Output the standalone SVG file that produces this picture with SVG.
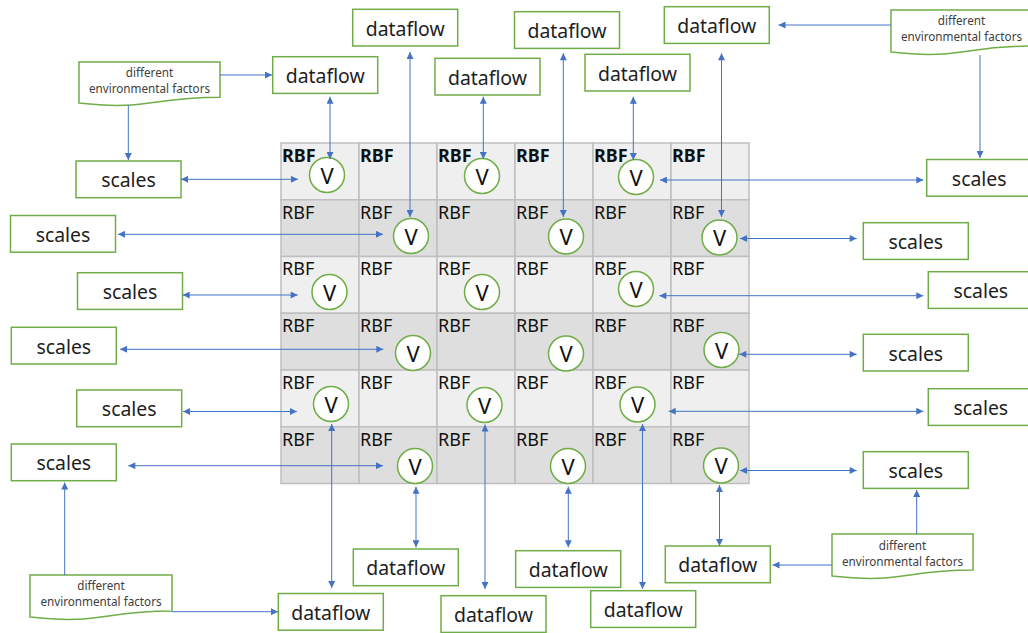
<svg xmlns="http://www.w3.org/2000/svg" width="1028" height="633" viewBox="0 0 1028 633">
<style>
.box{fill:#fff;stroke:#70ad47;stroke-width:1.5}
.doc{fill:#fff;stroke:#70ad47;stroke-width:1.5}
.lt{fill:#efefef;stroke:#bfbfbf;stroke-width:1.5}
.dk{fill:#dedede;stroke:#bfbfbf;stroke-width:1.5}
.cir{fill:#fff;stroke:#70ad47;stroke-width:1.5}
.t{font-family:"Noto Sans","Open Sans",sans-serif;font-size:19.4px;fill:#1e1e1e;text-anchor:middle}
.d{font-family:"Noto Sans","Open Sans",sans-serif;font-size:11.7px;fill:#404040;text-anchor:middle}
.r{font-family:"Noto Sans","Open Sans",sans-serif;font-size:18px;fill:#111}
.rb{font-weight:bold}
.v{font-family:"Noto Sans","Open Sans",sans-serif;font-size:22px;fill:#111;text-anchor:middle}
.c{fill:none;stroke:#4472c4;stroke-width:1}
.c2{marker-start:url(#ah);marker-end:url(#ah)}
.c1{marker-end:url(#ah)}
</style>
<defs>
<marker id="ah" viewBox="0 0 10 10" refX="10" refY="5" markerWidth="8" markerHeight="7" markerUnits="userSpaceOnUse" orient="auto-start-reverse"><path d="M0,0 L10,5 L0,10 z" fill="#4472c4"/></marker>
</defs>

<g id="grid">
<rect class="lt" x="281" y="143" width="78" height="56.75"/><rect class="lt" x="359" y="143" width="78" height="56.75"/><rect class="lt" x="437" y="143" width="78" height="56.75"/><rect class="lt" x="515" y="143" width="78" height="56.75"/><rect class="lt" x="593" y="143" width="78" height="56.75"/><rect class="lt" x="671" y="143" width="78" height="56.75"/>
<rect class="dk" x="281" y="199.75" width="78" height="56.75"/><rect class="dk" x="359" y="199.75" width="78" height="56.75"/><rect class="dk" x="437" y="199.75" width="78" height="56.75"/><rect class="dk" x="515" y="199.75" width="78" height="56.75"/><rect class="dk" x="593" y="199.75" width="78" height="56.75"/><rect class="dk" x="671" y="199.75" width="78" height="56.75"/>
<rect class="lt" x="281" y="256.5" width="78" height="56.75"/><rect class="lt" x="359" y="256.5" width="78" height="56.75"/><rect class="lt" x="437" y="256.5" width="78" height="56.75"/><rect class="lt" x="515" y="256.5" width="78" height="56.75"/><rect class="lt" x="593" y="256.5" width="78" height="56.75"/><rect class="lt" x="671" y="256.5" width="78" height="56.75"/>
<rect class="dk" x="281" y="313.25" width="78" height="56.75"/><rect class="dk" x="359" y="313.25" width="78" height="56.75"/><rect class="dk" x="437" y="313.25" width="78" height="56.75"/><rect class="dk" x="515" y="313.25" width="78" height="56.75"/><rect class="dk" x="593" y="313.25" width="78" height="56.75"/><rect class="dk" x="671" y="313.25" width="78" height="56.75"/>
<rect class="lt" x="281" y="370" width="78" height="56.75"/><rect class="lt" x="359" y="370" width="78" height="56.75"/><rect class="lt" x="437" y="370" width="78" height="56.75"/><rect class="lt" x="515" y="370" width="78" height="56.75"/><rect class="lt" x="593" y="370" width="78" height="56.75"/><rect class="lt" x="671" y="370" width="78" height="56.75"/>
<rect class="dk" x="281" y="426.75" width="78" height="56.75"/><rect class="dk" x="359" y="426.75" width="78" height="56.75"/><rect class="dk" x="437" y="426.75" width="78" height="56.75"/><rect class="dk" x="515" y="426.75" width="78" height="56.75"/><rect class="dk" x="593" y="426.75" width="78" height="56.75"/><rect class="dk" x="671" y="426.75" width="78" height="56.75"/>
<g class="r rb">
<text x="282" y="162">RBF</text><text x="360" y="162">RBF</text><text x="438" y="162">RBF</text><text x="516" y="162">RBF</text><text x="594" y="162">RBF</text><text x="672" y="162">RBF</text>
</g>
<g class="r">
<text x="282" y="218.5">RBF</text><text x="360" y="218.5">RBF</text><text x="438" y="218.5">RBF</text><text x="516" y="218.5">RBF</text><text x="594" y="218.5">RBF</text><text x="672" y="218.5">RBF</text>
<text x="282" y="275.3">RBF</text><text x="360" y="275.3">RBF</text><text x="438" y="275.3">RBF</text><text x="516" y="275.3">RBF</text><text x="594" y="275.3">RBF</text><text x="672" y="275.3">RBF</text>
<text x="282" y="332">RBF</text><text x="360" y="332">RBF</text><text x="438" y="332">RBF</text><text x="516" y="332">RBF</text><text x="594" y="332">RBF</text><text x="672" y="332">RBF</text>
<text x="282" y="388.8">RBF</text><text x="360" y="388.8">RBF</text><text x="438" y="388.8">RBF</text><text x="516" y="388.8">RBF</text><text x="594" y="388.8">RBF</text><text x="672" y="388.8">RBF</text>
<text x="282" y="445.5">RBF</text><text x="360" y="445.5">RBF</text><text x="438" y="445.5">RBF</text><text x="516" y="445.5">RBF</text><text x="594" y="445.5">RBF</text><text x="672" y="445.5">RBF</text>
</g>
</g>

<g id="v-nodes">
<g id="v11"><circle class="cir" cx="327" cy="175" r="17.5"/><text class="v" x="327" y="183.5">V</text></g>
<g id="v13"><circle class="cir" cx="482" cy="176" r="17.5"/><text class="v" x="482" y="184.5">V</text></g>
<g id="v15"><circle class="cir" cx="636" cy="177" r="17.5"/><text class="v" x="636" y="185.5">V</text></g>
<g id="v22"><circle class="cir" cx="411" cy="236" r="17.5"/><text class="v" x="411" y="244.5">V</text></g>
<g id="v24"><circle class="cir" cx="566" cy="236.5" r="17.5"/><text class="v" x="566" y="245">V</text></g>
<g id="v26"><circle class="cir" cx="719.5" cy="237.5" r="17.5"/><text class="v" x="719.5" y="246">V</text></g>
<g id="v31"><circle class="cir" cx="329.5" cy="292" r="17.5"/><text class="v" x="329.5" y="300.5">V</text></g>
<g id="v33"><circle class="cir" cx="482" cy="292" r="17.5"/><text class="v" x="482" y="300.5">V</text></g>
<g id="v35"><circle class="cir" cx="636" cy="289" r="17.5"/><text class="v" x="636" y="297.5">V</text></g>
<g id="v42"><circle class="cir" cx="413" cy="353" r="17.5"/><text class="v" x="413" y="361.5">V</text></g>
<g id="v44"><circle class="cir" cx="566" cy="353.5" r="17.5"/><text class="v" x="566" y="362">V</text></g>
<g id="v46"><circle class="cir" cx="721.5" cy="350" r="17.5"/><text class="v" x="721.5" y="358.5">V</text></g>
<g id="v51"><circle class="cir" cx="331" cy="404" r="17.5"/><text class="v" x="331" y="412.5">V</text></g>
<g id="v53"><circle class="cir" cx="484.5" cy="405" r="17.5"/><text class="v" x="484.5" y="413.5">V</text></g>
<g id="v55"><circle class="cir" cx="637.5" cy="404.5" r="17.5"/><text class="v" x="637.5" y="413">V</text></g>
<g id="v62"><circle class="cir" cx="415" cy="466" r="17.5"/><text class="v" x="415" y="474.5">V</text></g>
<g id="v64"><circle class="cir" cx="568" cy="466" r="17.5"/><text class="v" x="568" y="474.5">V</text></g>
<g id="v66"><circle class="cir" cx="721" cy="465.5" r="17.5"/><text class="v" x="721" y="474">V</text></g>
</g>

<g id="dataflow-nodes">
<g id="df-t1"><rect class="box" x="272.7" y="56.7" width="105" height="36.7"/><text class="t" x="325.2" y="83">dataflow</text></g>
<g id="df-t2"><rect class="box" x="352.7" y="9.3" width="105" height="36.7"/><text class="t" x="405.2" y="35.7">dataflow</text></g>
<g id="df-t3"><rect class="box" x="435" y="58.3" width="105" height="36.7"/><text class="t" x="487.5" y="84.7">dataflow</text></g>
<g id="df-t4"><rect class="box" x="514.5" y="11.7" width="105" height="36.7"/><text class="t" x="567" y="38">dataflow</text></g>
<g id="df-t5"><rect class="box" x="585" y="54.3" width="105" height="36.7"/><text class="t" x="637.5" y="80.7">dataflow</text></g>
<g id="df-t6"><rect class="box" x="664.3" y="6.7" width="105" height="36.7"/><text class="t" x="716.8" y="33">dataflow</text></g>
<g id="df-b1"><rect class="box" x="278.3" y="593.5" width="105" height="36.7"/><text class="t" x="330.8" y="619.8">dataflow</text></g>
<g id="df-b2"><rect class="box" x="353.3" y="549" width="105" height="36.7"/><text class="t" x="405.8" y="575.3">dataflow</text></g>
<g id="df-b3"><rect class="box" x="441" y="595.7" width="105" height="36.7"/><text class="t" x="493.5" y="622">dataflow</text></g>
<g id="df-b4"><rect class="box" x="515.7" y="550.7" width="105" height="36.7"/><text class="t" x="568.2" y="577">dataflow</text></g>
<g id="df-b5"><rect class="box" x="590.7" y="590.7" width="105" height="36.7"/><text class="t" x="643.2" y="617">dataflow</text></g>
<g id="df-b6"><rect class="box" x="665.3" y="546" width="105" height="36.7"/><text class="t" x="717.8" y="572.3">dataflow</text></g>
</g>

<g id="scales-nodes">
<g id="sc-l1"><rect class="box" x="76" y="161" width="105" height="36.7"/><text class="t" x="128.5" y="187.3">scales</text></g>
<g id="sc-l2"><rect class="box" x="10.5" y="215.5" width="105" height="36.7"/><text class="t" x="63" y="241.8">scales</text></g>
<g id="sc-l3"><rect class="box" x="77.5" y="272.7" width="105" height="36.7"/><text class="t" x="130" y="299">scales</text></g>
<g id="sc-l4"><rect class="box" x="11.3" y="327.3" width="105" height="36.7"/><text class="t" x="63.8" y="353.6">scales</text></g>
<g id="sc-l5"><rect class="box" x="76.7" y="390" width="105" height="36.7"/><text class="t" x="129.2" y="416.3">scales</text></g>
<g id="sc-l6"><rect class="box" x="11.3" y="444" width="105" height="36.7"/><text class="t" x="63.8" y="470.3">scales</text></g>
<g id="sc-r1"><rect class="box" x="926.7" y="159.5" width="105" height="36.7"/><text class="t" x="979.2" y="185.8">scales</text></g>
<g id="sc-r2"><rect class="box" x="863.3" y="222.7" width="105" height="36.7"/><text class="t" x="915.8" y="249">scales</text></g>
<g id="sc-r3"><rect class="box" x="928.3" y="271.7" width="105" height="36.7"/><text class="t" x="980.8" y="298">scales</text></g>
<g id="sc-r4"><rect class="box" x="863.3" y="334.3" width="105" height="36.7"/><text class="t" x="915.8" y="360.6">scales</text></g>
<g id="sc-r5"><rect class="box" x="928.3" y="388.7" width="105" height="36.7"/><text class="t" x="980.8" y="415">scales</text></g>
<g id="sc-r6"><rect class="box" x="863.3" y="451.7" width="105" height="36.7"/><text class="t" x="915.8" y="478">scales</text></g>
</g>

<g id="factor-nodes">
<g id="ef-tl"><path class="doc" d="M79,62 H220 V97.3 C149.5,97.3 149.5,110.7 79,103.1 Z"/><text class="d" x="149.5" y="76.7">different</text><text class="d" x="149.5" y="92.7">environmental factors</text></g>
<g id="ef-tr"><path class="doc" d="M891,10 H1032 V46.1 C961.5,46.1 961.5,59.8 891,52 Z"/><text class="d" x="961.5" y="25">different</text><text class="d" x="961.5" y="40.5">environmental factors</text></g>
<g id="ef-bl"><path class="doc" d="M30,575 H172 V611.1 C101,611.1 101,624.8 30,617 Z"/><text class="d" x="101" y="590">different</text><text class="d" x="101" y="606">environmental factors</text></g>
<g id="ef-br"><path class="doc" d="M832,534 H973 V570.1 C902.5,570.1 902.5,583.8 832,576 Z"/><text class="d" x="902.5" y="550">different</text><text class="d" x="902.5" y="565.7">environmental factors</text></g>
</g>

<g id="connectors">
<!-- factor connectors -->
<path class="c c1" d="M220,75 H272"/>
<path class="c c1" d="M128.3,105 V160"/>
<path class="c c1" d="M891,25 H778.5"/>
<path class="c c1" d="M980,55 V158"/>
<path class="c c1" d="M64.7,575 V482.5"/>
<path class="c c1" d="M172,611.7 H278"/>
<path class="c c1" d="M916.7,534 V490"/>
<path class="c c1" d="M832,565 H772.5"/>
<!-- top verticals -->
<path class="c c2" d="M330,96.7 V159"/>
<path class="c c2" d="M410,52 V217"/>
<path class="c c2" d="M483.3,96.7 V159"/>
<path class="c c2" d="M563.3,53.3 V217"/>
<path class="c c2" d="M633.3,96.7 V160"/>
<path class="c c2" d="M721.5,53.3 V217"/>
<!-- bottom verticals -->
<path class="c c2" d="M331.7,424 V588"/>
<path class="c c2" d="M416,486.7 V547.3"/>
<path class="c c2" d="M485,424.5 V589"/>
<path class="c c2" d="M568.3,486.7 V547.3"/>
<path class="c c2" d="M642.5,424 V589"/>
<path class="c c2" d="M719.5,485 V546"/>
<!-- left horizontals -->
<path class="c c2" d="M181,179.3 H298"/>
<path class="c c2" d="M118,234.3 H383"/>
<path class="c c2" d="M182.7,295 H297.7"/>
<path class="c c2" d="M120,349.3 H383.3"/>
<path class="c c2" d="M183,411.5 H297"/>
<path class="c c2" d="M128.3,465.7 H383"/>
<!-- right horizontals -->
<path class="c c2" d="M660,180 H923.3"/>
<path class="c c2" d="M740,238.5 H856.7"/>
<path class="c c2" d="M659.3,295.7 H923.3"/>
<path class="c c2" d="M739.3,354.3 H856.7"/>
<path class="c c2" d="M668.7,411.3 H923.3"/>
<path class="c c2" d="M740,470.5 H856.7"/>
</g>
</svg>
